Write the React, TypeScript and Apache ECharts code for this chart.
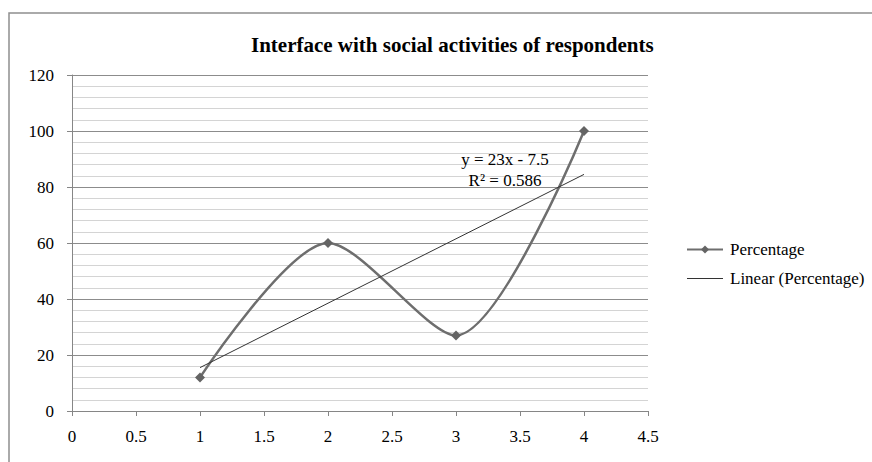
import React, { useEffect, useRef } from "react";
import * as echarts from "echarts";

const xValues = [1, 2, 3, 4];
const percentage = [12, 60, 27, 100];
const trendX = [1, 4];
const trendY = [15.5, 84.5];
const equationLines = ["y = 23x - 7.5", "R² = 0.586"];
const titleText = "Interface with social activities of respondents";

const SERIF = "Liberation Serif";

export default function App() {
  const ref = useRef<HTMLDivElement>(null);
  useEffect(() => {
    document.body.style.margin = "0";
    if (!ref.current) return;
    const chart = echarts.init(ref.current, undefined, { renderer: "svg" });
    chart.setOption({
      animation: false,
      backgroundColor: "#ffffff",
      textStyle: { fontFamily: SERIF },
      title: {
        text: titleText,
        left: 246,
        top: 29,
        textStyle: { fontFamily: SERIF, fontSize: 21, fontWeight: "bold", color: "#000" },
      },
      grid: { left: 72, right: 224, top: 75, bottom: 51, containLabel: false },
      xAxis: {
        type: "value",
        min: 0,
        max: 4.5,
        interval: 0.5,
        axisLine: { show: true, lineStyle: { color: "#868686", width: 1 } },
        axisTick: { show: true, length: 5, lineStyle: { color: "#868686" } },
        splitLine: { show: false },
        axisLabel: { color: "#000", fontFamily: SERIF, fontSize: 17, margin: 17 },
      },
      yAxis: {
        type: "value",
        min: 0,
        max: 120,
        interval: 20,
        axisLine: { show: true, lineStyle: { color: "#868686", width: 1 } },
        axisTick: { show: true, length: 5, lineStyle: { color: "#868686" } },
        splitLine: { show: true, lineStyle: { color: "#8c8c8c", width: 1 } },
        minorTick: { show: false, splitNumber: 5 },
        minorSplitLine: { show: true, lineStyle: { color: "#d4d4d4", width: 1 } },
        axisLabel: { color: "#000", fontFamily: SERIF, fontSize: 17, margin: 18 },
      },
      legend: {
        orient: "vertical",
        left: 681,
        top: 236,
        itemWidth: 36,
        itemHeight: 10,
        itemGap: 12,
        textStyle: { fontFamily: SERIF, fontSize: 17, color: "#000", padding: [0, 0, 0, 2] },
        data: [
          { name: "Percentage" },
          { name: "Linear (Percentage)", icon: "path://M0,0 L40,0 L40,1 L0,1 Z" },
        ],
      },
      series: [
        {
          name: "Percentage",
          type: "line",
          smooth: 0.28,
          data: xValues.map((x, i) => [x, percentage[i]]),
          symbol: "diamond",
          symbolSize: 10,
          lineStyle: { color: "#6e6e6e", width: 2.5 },
          itemStyle: { color: "#646464" },
          z: 3,
        },
        {
          name: "Linear (Percentage)",
          type: "line",
          data: trendX.map((x, i) => [x, trendY[i]]),
          symbol: "none",
          lineStyle: { color: "#333333", width: 1 },
          itemStyle: { color: "#333333" },
          z: 4,
        },
      ],
      graphic: [
        {
          type: "rect",
          shape: { x: 9, y: 13, width: 1000, height: 600 },
          style: { fill: "none", stroke: "#8f8f8f", lineWidth: 1.5 },
          silent: true,
        },
        {
          type: "text",
          x: 505,
          y: 149,
          style: {
            text: equationLines.join("\n"),
            fontFamily: SERIF,
            fontSize: 17,
            lineHeight: 21,
            fill: "#000",
            align: "center",
          },
          z: 10,
        },
      ],
    });
    return () => chart.dispose();
  }, []);
  return <div ref={ref} style={{ width: 872, height: 462 }} />;
}
